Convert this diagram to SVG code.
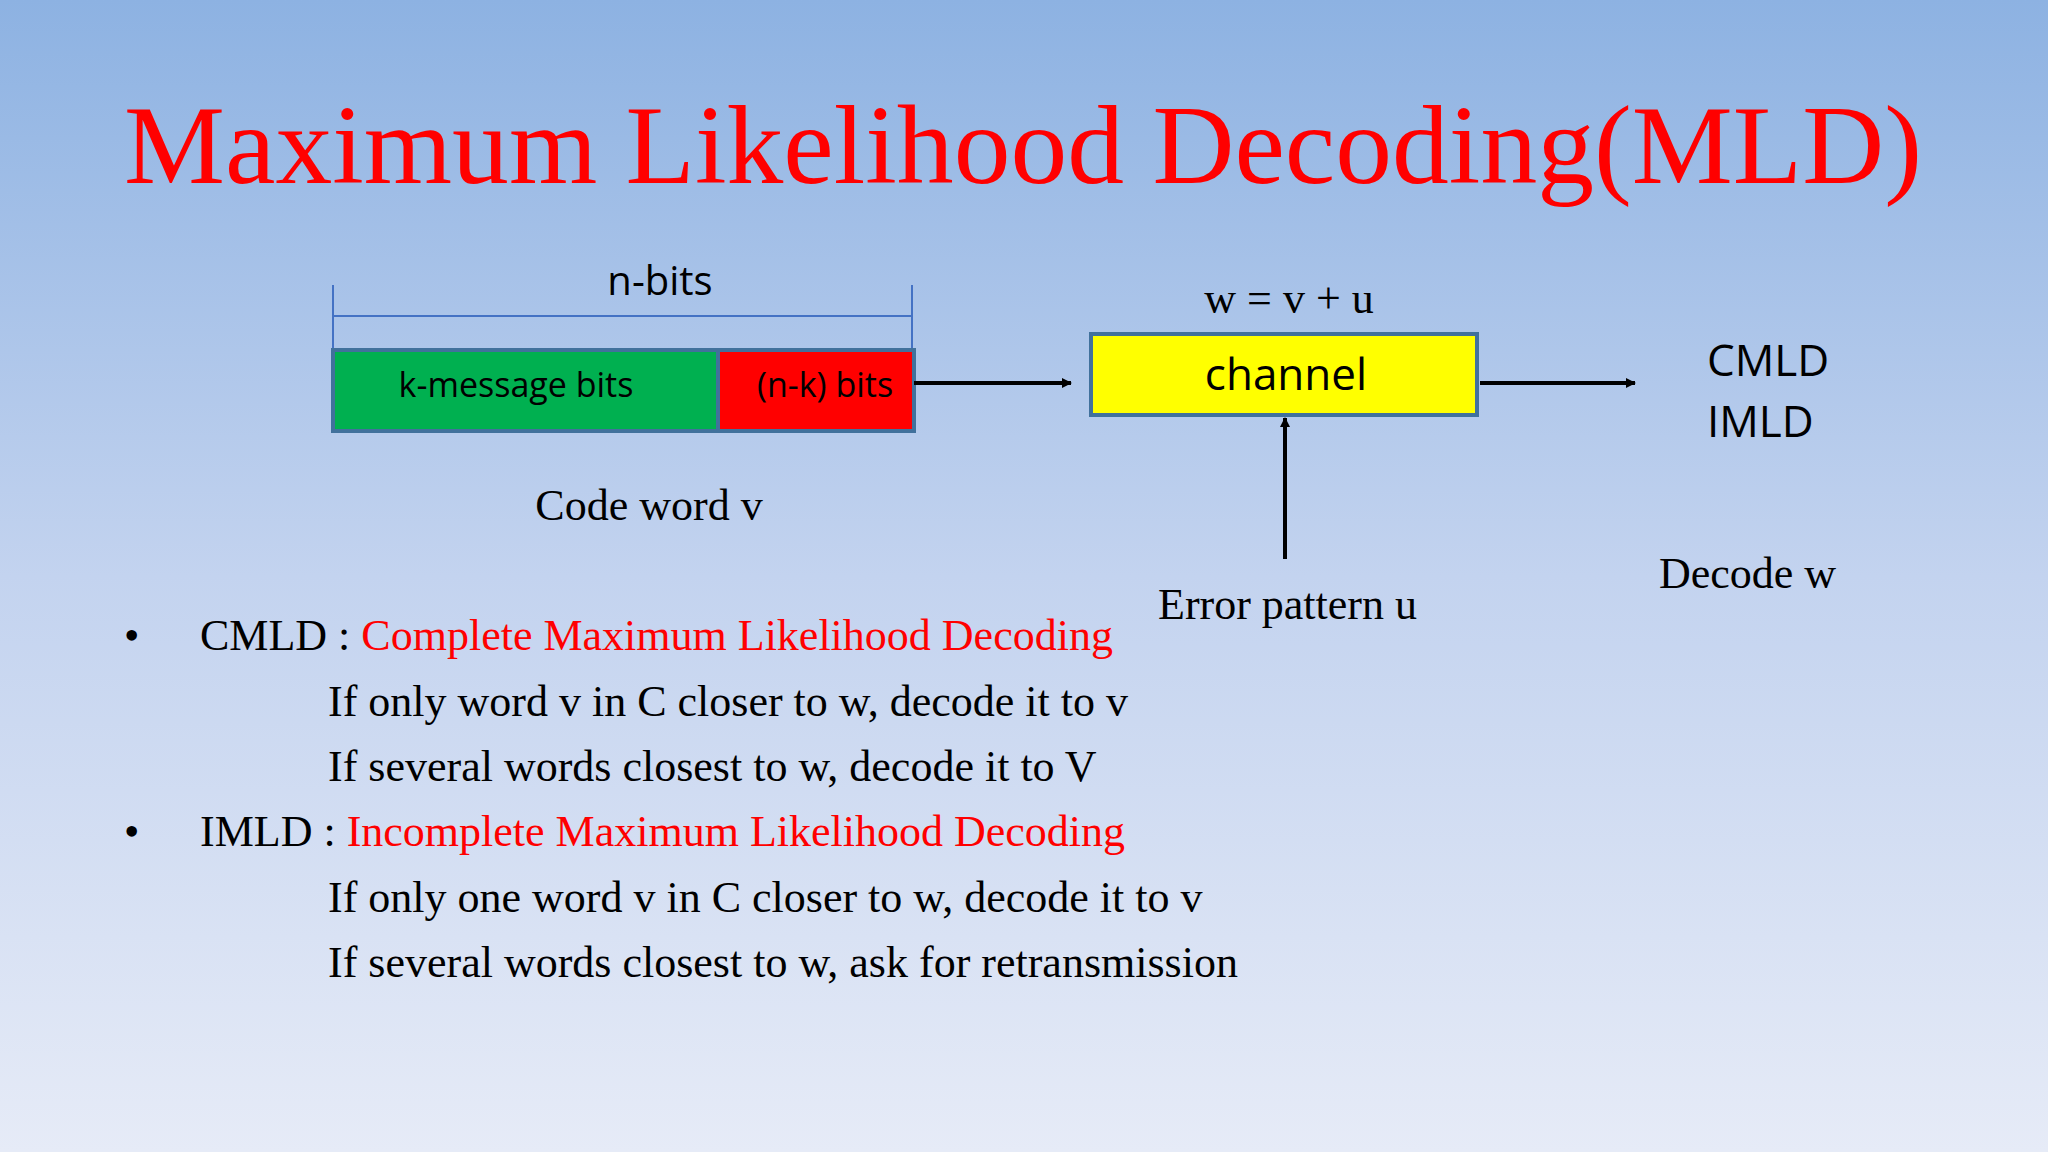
<svg xmlns="http://www.w3.org/2000/svg" width="2048" height="1152" viewBox="0 0 2048 1152">
<defs>
<linearGradient id="bg" x1="0" y1="0" x2="0" y2="1">
<stop offset="0" stop-color="#8db2e2"/>
<stop offset="0.5" stop-color="#c3d3ef"/>
<stop offset="1" stop-color="#e6ebf7"/>
</linearGradient>
<marker id="ah" markerWidth="10" markerHeight="10" refX="9" refY="5" orient="auto" markerUnits="userSpaceOnUse"><path d="M0,0 L10,5 L0,10 z" fill="#000"/></marker>
<style>
.t{font-family:"Liberation Serif",serif;font-size:44px;fill:#000}
.r{fill:#ff0000}
.s{font-family:"Open Sans","Liberation Sans",sans-serif;fill:#000}
.box{stroke:#41719c;stroke-width:4}
.ln{stroke:#000;stroke-width:4;fill:none;marker-end:url(#ah)}
</style>
</defs>
<rect width="2048" height="1152" fill="url(#bg)"/>
<text x="124" y="183" font-family="Liberation Serif, serif" font-size="112" fill="#ff0000" textLength="1798" lengthAdjust="spacingAndGlyphs">Maximum Likelihood Decoding(MLD)</text>
<g id="nbits">
<path d="M333,285 V350 M912,285 V350 M333,316 H912" stroke="#4472c4" stroke-width="2" fill="none"/>
<text class="s" x="660" y="295" font-size="40" text-anchor="middle">n-bits</text>
</g>
<g id="codeword">
<rect class="box" x="333" y="350" width="385" height="81" fill="#00b050"/>
<text class="s" x="516" y="397" font-size="34" text-anchor="middle">k-message bits</text>
<rect class="box" x="718" y="350" width="196" height="81" fill="#ff0000"/>
<text class="s" x="825" y="397" font-size="34" text-anchor="middle">(n-k) bits</text>
<text class="t" x="649" y="520" font-size="47" text-anchor="middle">Code word  v</text>
</g>
<g id="channel">
<rect class="box" x="1091" y="334" width="386" height="81" fill="#ffff00"/>
<text class="s" x="1286" y="390" font-size="44" text-anchor="middle">channel</text>
<text class="t" x="1289" y="313" font-size="58" text-anchor="middle">w = v + u</text>
</g>
<g id="error"><text class="t" x="1158" y="619" font-size="47">Error pattern u</text></g>
<g id="decode">
<text class="s" x="1707" y="376" font-size="44">CMLD</text>
<text class="s" x="1707" y="437" font-size="44">IMLD</text>
<text class="t" x="1659" y="588" font-size="47">Decode  w</text>
</g>
<g id="connectors">
<line class="ln" x1="914" y1="383" x2="1071" y2="383"/>
<line class="ln" x1="1480" y1="383" x2="1635" y2="383"/>
<line class="ln" x1="1285" y1="559" x2="1285" y2="418"/>
</g>
<g id="bullets">
<text class="t" x="124" y="650">•</text>
<text class="t" x="200" y="650">CMLD : <tspan class="r">Complete Maximum Likelihood Decoding</tspan></text>
<text class="t" x="328" y="716">If only word v in C closer to w, decode it to v</text>
<text class="t" x="328" y="781">If several words closest to w, decode it to V</text>
<text class="t" x="124" y="846">•</text>
<text class="t" x="200" y="846">IMLD : <tspan class="r">Incomplete Maximum Likelihood Decoding</tspan></text>
<text class="t" x="328" y="912">If only one word v in C closer to w, decode it to v</text>
<text class="t" x="328" y="977">If several words closest to w, ask for retransmission</text>
</g>
</svg>
